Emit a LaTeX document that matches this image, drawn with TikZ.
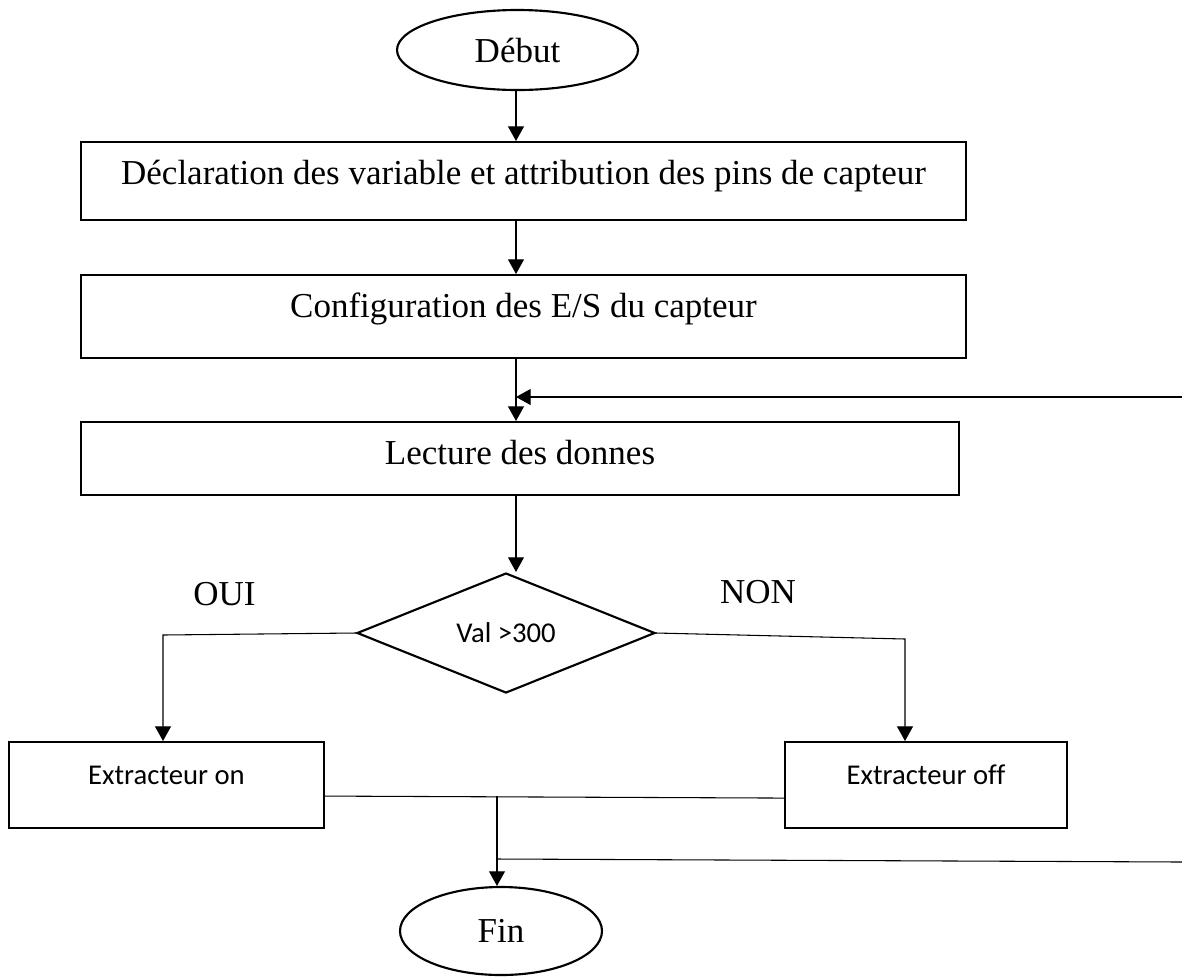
\documentclass[tikz,border=0pt]{standalone}
\usepackage{fontspec}
\setmainfont[Ligatures=NoCommon]{Liberation Serif}
\newfontfamily\calib[Ligatures=NoCommon]{Carlito}
\usetikzlibrary{shapes.geometric,arrows.meta}

\tikzset{
  arr/.style={-{Triangle[length=11pt,width=12pt]}},
  conn/.style={line width=0.8pt},
  stepbox/.style={draw, line width=1.6pt, rectangle, inner sep=0pt,
    text height=31.5pt, font=\fontsize{26.25}{30}\selectfont},
  actbox/.style={draw, line width=1.6pt, rectangle, inner sep=0pt,
    text height=31.5pt, text depth=33pt, minimum height=0pt,
    font=\calib\fontsize{21.5}{25}\selectfont},
  term/.style={draw, line width=1.6pt, ellipse, inner sep=0pt,
    font=\fontsize{26.25}{30}\selectfont},
  decision/.style={draw, line width=1.6pt, diamond, inner sep=0pt,
    minimum width=223.5pt, minimum height=90pt,
    font=\calib\fontsize{21.5}{25}\selectfont},
  branch/.style={anchor=base, inner sep=0pt, font=\fontsize{26.25}{30}\selectfont}
}

\begin{document}
\begin{tikzpicture}[x=0.75pt, y=-0.75pt, conn]
\useasboundingbox (0,0) rectangle (1182,976);

% terminals
\node[term, minimum width=180.75pt, minimum height=60pt] (debut) at (517.5,50) {Début};
\node[term, minimum width=151.5pt, minimum height=66pt] (fin) at (501,931) {Fin};

% processing steps
\node[stepbox, anchor=north, minimum width=663.75pt, text depth=27pt] (b1) at (523.5,141)
  {Déclaration des variable et attribution des pins de capteur};
\node[stepbox, anchor=north, minimum width=663.75pt, text depth=30.75pt] (b2) at (523.5,274)
  {Configuration des E/S du capteur};
\node[stepbox, anchor=north, minimum width=658.5pt, text depth=23.25pt] (b3) at (520,421)
  {Lecture des donnes};

% test
\node[decision] (dia) at (506,633) {Val >300};
\node[branch] (oui) at (224.5,605) {OUI};
\node[branch] (non) at (758,603) {NON};

% actions
\node[actbox, anchor=north, minimum width=236.25pt] (eon) at (166.5,741) {Extracteur on};
\node[actbox, anchor=north, minimum width=211.5pt] (eoff) at (926,741) {Extracteur off};

% routing points
\coordinate (spine) at (516,0);
\coordinate (fbin) at (1182,397);
\coordinate (ouiturn) at (163,635);
\coordinate (nonturn) at (905,639);
\coordinate (join) at (497,796);
\coordinate (loopA) at (497,859);
\coordinate (loopB) at (1182,862);

% main flow
\draw[arr] (debut.south -| spine) -- (b1.north -| spine);
\draw[arr] (b1.south -| spine) -- (b2.north -| spine);
\draw[arr] (b2.south -| spine) -- (b3.north -| spine);
\draw[arr] (fbin) -- (fbin -| spine);
\draw[arr] (b3.south -| spine) -- (dia.north -| spine);

% branches
\draw[arr] (dia.west) -- (ouiturn) -- (ouiturn |- eon.north);
\draw[arr] (dia.east) -- (nonturn) -- (nonturn |- eoff.north);

% merge and end
\draw ([yshift=-8.25pt]eon.east) -- ([yshift=-9.75pt]eoff.west);
\draw[arr] (join) -- (join |- fin.north);
\draw (loopA) -- (loopB);
\end{tikzpicture}
\end{document}
